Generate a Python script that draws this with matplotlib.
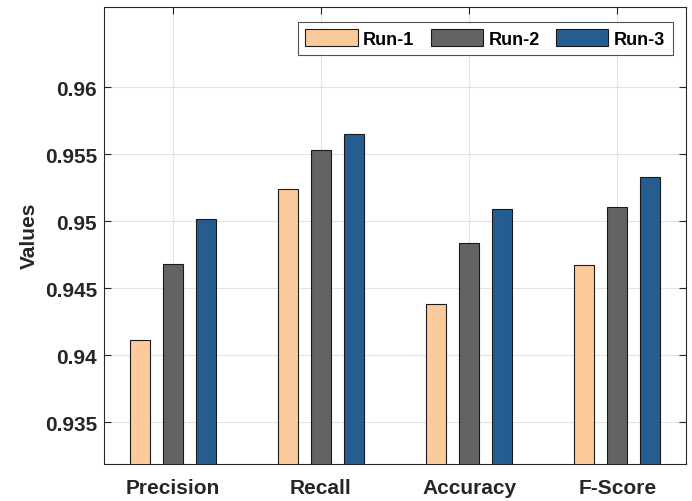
import matplotlib
matplotlib.use("Agg")
import matplotlib.pyplot as plt
import numpy as np

plt.rcParams['font.family'] = ['Liberation Sans', 'DejaVu Sans']
plt.rcParams['font.weight'] = 'bold'

categories = ["Precision", "Recall", "Accuracy", "F-Score"]
run_names = ["Run-1", "Run-2", "Run-3"]
run1 = [0.9411, 0.9524, 0.9438, 0.9467]
run2 = [0.9468, 0.9553, 0.9484, 0.9511]
run3 = [0.9502, 0.9565, 0.9509, 0.9533]
colors = ["#FBCB9B", "#636363", "#265D91"]
y_ticks = [0.935, 0.94, 0.945, 0.95, 0.955, 0.96]
y_tick_labels = ["0.935", "0.94", "0.945", "0.95", "0.955", "0.96"]

axis_color = "#262626"

fig = plt.figure(figsize=(6.92, 5.02), dpi=100)
ax = fig.add_axes([0.1503, 0.0737, 0.8410, 0.9113])

x = np.arange(1, len(categories) + 1)
offsets = [-0.2222, 0.0, 0.2222]
width = 0.135
for vals, name, col, off in zip([run1, run2, run3], run_names, colors, offsets):
    ax.bar(x + off, vals, width=width, color=col, edgecolor="#1a1a1a",
           linewidth=0.8, label=name, zorder=3)

ax.set_xlim(0.536, 4.464)
ax.set_ylim(0.93187, 0.96604)
ax.set_xticks(x)
ax.set_xticklabels(categories, fontsize=15, fontweight='bold', color=axis_color)
ax.set_yticks(y_ticks)
ax.set_yticklabels(y_tick_labels, fontsize=15, fontweight='bold', color=axis_color)
ax.set_ylabel("Values", fontsize=15, fontweight='bold', color=axis_color, labelpad=4)

ax.grid(True, color="#e3e3e3", linewidth=0.8, zorder=0)
ax.set_axisbelow(True)
ax.tick_params(axis='both', direction='in', length=5, width=0.8, color=axis_color,
               top=True, right=True)
ax.tick_params(axis='y', pad=5)
ax.tick_params(axis='x', pad=10)
for s in ax.spines.values():
    s.set_color(axis_color)
    s.set_linewidth(0.8)

leg = ax.legend(loc='upper right', ncol=3, fontsize=13, frameon=True, fancybox=False,
                edgecolor="#262626", handlelength=2.9, handleheight=1.05,
                handletextpad=0.3, columnspacing=0.9, borderpad=0.42,
                bbox_to_anchor=(0.977, 0.967), borderaxespad=0.0)
leg.get_frame().set_linewidth(0.8)
for t in leg.get_texts():
    t.set_fontweight('bold')

fig.savefig("out.png", dpi=100)
